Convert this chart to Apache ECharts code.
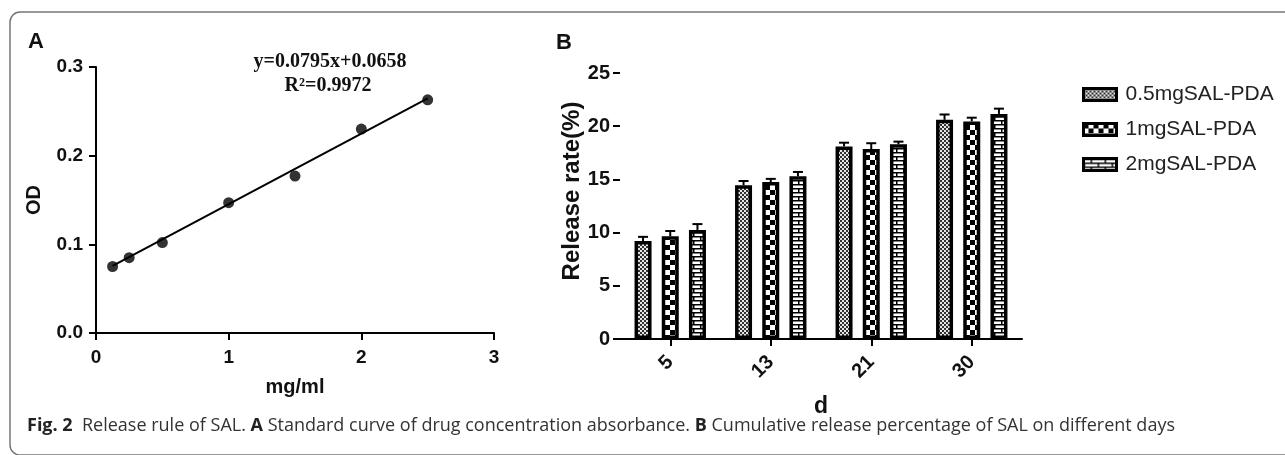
<!DOCTYPE html>
<html>
<head>
<meta charset="utf-8">
<title>Release rule of SAL</title>
<script src="https://cdn.jsdelivr.net/npm/echarts@6/dist/echarts.min.js"></script>
<style>
	html, body { margin: 0; padding: 0; background: #fff; }
	#chart { width: 1285px; height: 455px; }
</style>
</head>
<body>
<div id="chart"></div>
<script>
// panel A: standard curve
const concX = [0.125, 0.25, 0.5, 1, 1.5, 2, 2.5];
const odY = [0.075, 0.085, 0.102, 0.147, 0.177, 0.23, 0.263];
const fitLine = [[0.125, 0.0757], [2.5, 0.2646]];

// panel B: cumulative release
const days = ["5", "13", "21", "30"];
const groupNames = ["0.5mgSAL-PDA", "1mgSAL-PDA", "2mgSAL-PDA"];
const rel05 = [9.2, 14.45, 18.1, 20.6];
const rel1 = [9.65, 14.75, 17.85, 20.45];
const rel2 = [10.25, 15.3, 18.3, 21.15];
const sd05 = [0.4, 0.4, 0.35, 0.5];
const sd1 = [0.5, 0.3, 0.55, 0.35];
const sd2 = [0.55, 0.4, 0.25, 0.5];

const font = "'Liberation Sans', Arial, sans-serif";

function makePattern(w, h, draw) {
	let c = document.createElement("canvas");
	c.width = w;
	c.height = h;
	let ctx = c.getContext("2d");
	draw(ctx);
	return { image: c, repeat: "repeat" };
}

const fineChecker = makePattern(4, 4, (ctx) => {
	ctx.fillStyle = "#e6e6e6";
	ctx.fillRect(0, 0, 4, 4);
	ctx.fillStyle = "#333";
	ctx.fillRect(0, 0, 2, 2);
	ctx.fillRect(2, 2, 2, 2);
});
const bigChecker = makePattern(10, 10, (ctx) => {
	ctx.fillStyle = "#fff";
	ctx.fillRect(0, 0, 10, 10);
	ctx.fillStyle = "#000";
	ctx.fillRect(0, 0, 5, 5);
	ctx.fillRect(5, 5, 5, 5);
});
const brick = makePattern(14, 8, (ctx) => {
	ctx.fillStyle = "#fff";
	ctx.fillRect(0, 0, 14, 8);
	ctx.fillStyle = "#000";
	ctx.fillRect(0, 0, 14, 1.5);
	ctx.fillRect(0, 4, 14, 1.5);
	ctx.fillRect(7, 0, 1.5, 4);
	ctx.fillRect(0, 4, 1.5, 4);
});

const barWidth = 17;
const barGapPct = 0.6;
const barStep = barWidth * (1 + barGapPct);

function barSeries(name, values, fill) {
	return {
		name: name,
		type: "bar",
		xAxisIndex: 1,
		yAxisIndex: 1,
		barWidth: barWidth,
		barGap: barGapPct * 100 + "%",
		data: values,
		itemStyle: { color: fill, borderColor: "#000", borderWidth: 3.5 },
	};
}

function errSeries(values, errs, idx) {
	return {
		type: "custom",
		xAxisIndex: 1,
		yAxisIndex: 1,
		z: 5,
		silent: true,
		data: values.map((v, i) => [i, v, errs[i]]),
		renderItem: (params, api) => {
			let base = api.coord([api.value(0), api.value(1)]);
			let top = api.coord([api.value(0), api.value(1) + api.value(2)]);
			let x = base[0] + (idx - 1) * barStep;
			let style = { stroke: "#000", lineWidth: 2 };
			return {
				type: "group",
				children: [
					{ type: "line", shape: { x1: x, y1: base[1], x2: x, y2: top[1] }, style: style },
					{ type: "line", shape: { x1: x - 5, y1: top[1], x2: x + 5, y2: top[1] }, style: style },
				],
			};
		},
	};
}

const axisCommon = {
	axisLine: { lineStyle: { color: "#000", width: 2 } },
	axisTick: { show: true, length: 7, lineStyle: { color: "#000", width: 2 } },
	splitLine: { show: false },
};

let myChart = echarts.init(document.getElementById("chart"));
let option = {
	backgroundColor: "#fff",
	animation: false,
	textStyle: { fontFamily: font },
	grid: [
		{ left: 96, top: 67, width: 398, height: 266 },
		{ left: 620, top: 73, width: 402, height: 266 },
	],
	legend: {
		left: 1077,
		top: 79,
		orient: "vertical",
		icon: "rect",
		itemWidth: 33,
		itemHeight: 12,
		itemGap: 14,
		data: groupNames,
		itemStyle: { borderColor: "#000", borderWidth: 3 },
		textStyle: { fontSize: 21, color: "#222", fontFamily: font, padding: [0, 0, 0, 4] },
	},
	xAxis: [
		{
			gridIndex: 0,
			type: "value",
			min: 0,
			max: 3,
			interval: 1,
			name: "mg/ml",
			nameLocation: "middle",
			nameGap: 44,
			nameTextStyle: { fontSize: 20, fontWeight: "bold", color: "#111" },
			axisLabel: { margin: 15, fontSize: 19, fontWeight: "bold", color: "#111" },
			...axisCommon,
		},
		{
			gridIndex: 1,
			type: "category",
			data: days,
			name: "d",
			nameLocation: "middle",
			nameGap: 56,
			nameTextStyle: { fontSize: 23, fontWeight: "bold", color: "#111" },
			axisLabel: { margin: 20, rotate: 45, fontSize: 20, fontWeight: "bold", color: "#111" },
			...axisCommon,
			axisTick: { show: true, alignWithLabel: true, length: 7, lineStyle: { color: "#000", width: 2 } },
		},
	],
	yAxis: [
		{
			gridIndex: 0,
			type: "value",
			min: 0,
			max: 0.3,
			interval: 0.1,
			name: "OD",
			nameLocation: "middle",
			nameGap: 52,
			nameTextStyle: { fontSize: 20, fontWeight: "bold", color: "#111" },
			axisLabel: { margin: 13, fontSize: 19, fontWeight: "bold", color: "#111", formatter: (v) => v.toFixed(1) },
			...axisCommon,
		},
		{
			gridIndex: 1,
			type: "value",
			min: 0,
			max: 25,
			interval: 5,
			axisLabel: { margin: 10, fontSize: 20, fontWeight: "bold", color: "#111" },
			...axisCommon,
		},
	],
	series: [
		{
			type: "line",
			xAxisIndex: 0,
			yAxisIndex: 0,
			data: fitLine,
			symbol: "none",
			lineStyle: { color: "#000", width: 2 },
		},
		{
			type: "scatter",
			xAxisIndex: 0,
			yAxisIndex: 0,
			data: concX.map((x, i) => [x, odY[i]]),
			symbolSize: 11,
			itemStyle: { color: "#000" },
		},
		barSeries(groupNames[0], rel05, fineChecker),
		barSeries(groupNames[1], rel1, bigChecker),
		barSeries(groupNames[2], rel2, brick),
		errSeries(rel05, sd05, 0),
		errSeries(rel1, sd1, 1),
		errSeries(rel2, sd2, 2),
	],
	graphic: [
		{
			type: "rect",
			silent: true,
			shape: { x: 10, y: 12, width: 1300, height: 443, r: 10 },
			style: { fill: "none", stroke: "#777", lineWidth: 1.5 },
		},
		{
			type: "text",
			left: 28,
			top: 31,
			style: { text: "A", font: "bold 22px " + font, fill: "#111" },
		},
		{
			type: "text",
			left: 556,
			top: 32,
			style: { text: "B", font: "bold 22px " + font, fill: "#111" },
		},
		{
			// y-axis title of panel B
			type: "text",
			x: 572,
			y: 191,
			rotation: Math.PI / 2,
			style: {
				text: "Release rate(%)",
				font: "bold 24px " + font,
				fill: "#111",
				align: "center",
				verticalAlign: "middle",
			},
		},
		{
			type: "text",
			x: 330,
			y: 62,
			style: {
				text: "y=0.0795x+0.0658",
				font: "bold 20px 'Liberation Serif', 'Times New Roman', serif",
				fill: "#111",
				align: "center",
				verticalAlign: "middle",
			},
		},
		{
			type: "text",
			x: 328,
			y: 86,
			style: {
				text: "R²=0.9972",
				font: "bold 20px 'Liberation Serif', 'Times New Roman', serif",
				fill: "#111",
				align: "center",
				verticalAlign: "middle",
			},
		},
		{
			type: "text",
			x: 27,
			y: 426,
			style: {
				rich: {
					b: { font: "bold 18px 'Open Sans', 'Noto Sans', sans-serif", fill: "#222" },
					n: { font: "18px 'Open Sans', 'Noto Sans', sans-serif", fill: "#333" },
				},
				text:
					"{b|Fig. 2}{n|  Release rule of SAL. }{b|A}{n| Standard curve of drug concentration absorbance. }{b|B}{n| Cumulative release percentage of SAL on different days}",
				verticalAlign: "middle",
			},
		},
	],
};
myChart.setOption(option);
</script>
</body>
</html>
